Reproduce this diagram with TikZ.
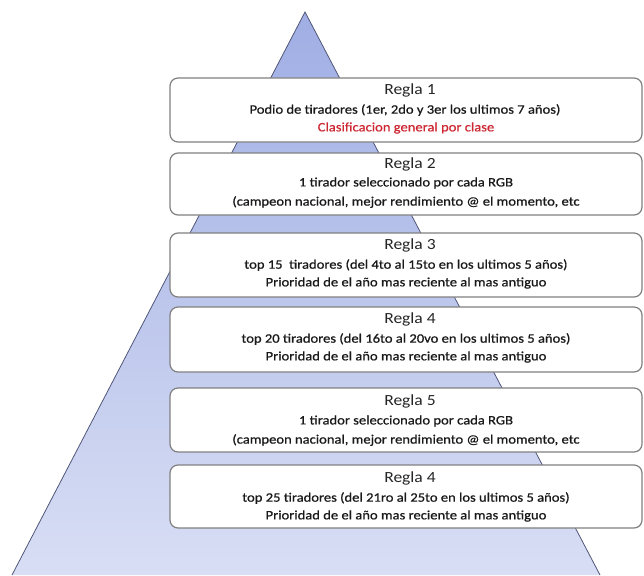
\documentclass[tikz,border=0pt]{standalone}
\usepackage{fontspec}
\setmainfont{Carlito}[FakeStretch=1.13]
\newfontfamily\subfont{Carlito}[FakeStretch=1.13, FakeBold=0.7]
\begin{document}
\begin{tikzpicture}[x=1pt,y=-1pt,
  regla/.style={draw=black!50, line width=1.2pt, fill=white, rounded corners=8pt},
  ttl/.style={font=\fontsize{15.5}{15.5}\selectfont, text=black!85, inner sep=0pt},
  sub/.style={font=\subfont\fontsize{12.9}{12.9}\selectfont, text=black!90, inner sep=0pt},
  redtxt/.style={font=\subfont\fontsize{12.9}{12.9}\selectfont, text={rgb,255:red,205;green,40;blue,50}, inner sep=0pt}]
\useasboundingbox (0,0) rectangle (644,575);
\shade[top color={rgb,255:red,160;green,174;blue,228}, bottom color={rgb,255:red,216;green,222;blue,244}]
  (305,12) -- (12,575) -- (600,575) -- cycle;
\draw[draw={rgb,255:red,80;green,86;blue,120}, line width=0.8pt] (12,575) -- (305,12) -- (600,575);
% boxes
\draw[regla] (170,78) rectangle (642,142);
\draw[regla] (170,153) rectangle (642,215);
\draw[regla] (170,233) rectangle (642,297);
\draw[regla] (170,307) rectangle (642,372);
\draw[regla] (170,388) rectangle (642,452);
\draw[regla] (170,465) rectangle (642,528);
% texts
\node[ttl] (t1) at (410,90) {Regla 1};
\node[sub] (a1) at (405,110) {Podio de tiradores (1er, 2do y 3er los ultimos 7 años)};
\node[redtxt] (b1) at (406,128) {Clasificacion general por clase};
\node[ttl] (t2) at (410,164) {Regla 2};
\node[sub] (a2) at (406,183) {1 tirador seleccionado por cada RGB};
\node[sub] (b2) at (406,202) {(campeon nacional, mejor rendimiento @ el momento, etc};
\node[ttl] (t3) at (410,245) {Regla 3};
\node[sub] (a3) at (406,265) {top 15\ \ tiradores (del 4to al 15to en los ultimos 5 años)};
\node[sub] (b3) at (406,283) {Prioridad de el año mas reciente al mas antiguo};
\node[ttl] (t4) at (410,319) {Regla 4};
\node[sub] (a4) at (406,339) {top 20 tiradores (del 16to al 20vo en los ultimos 5 años)};
\node[sub] (b4) at (406,357) {Prioridad de el año mas reciente al mas antiguo};
\node[ttl] (t5) at (410,401) {Regla 5};
\node[sub] (a5) at (406,421) {1 tirador seleccionado por cada RGB};
\node[sub] (b5) at (406,440) {(campeon nacional, mejor rendimiento @ el momento, etc};
\node[ttl] (t6) at (410,478) {Regla 4};
\node[sub] (a6) at (406,498) {top 25 tiradores (del 21ro al 25to en los ultimos 5 años)};
\node[sub] (b6) at (406,516) {Prioridad de el año mas reciente al mas antiguo};
\end{tikzpicture}
\end{document}
